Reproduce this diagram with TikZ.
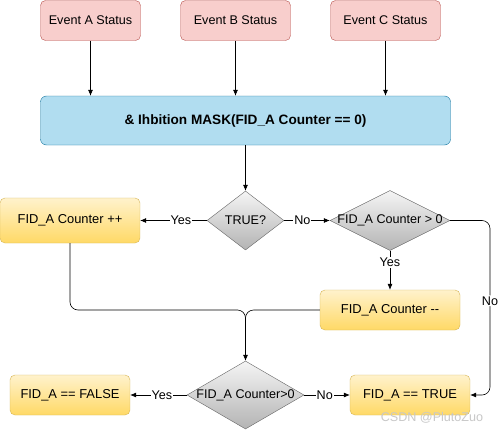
\documentclass[tikz,border=0pt]{standalone}
\usepackage{fontspec}
\setmainfont{Liberation Sans}
\usetikzlibrary{shapes.geometric,arrows.meta,calc}
\definecolor{evfill}{HTML}{F8CECC}
\definecolor{evdraw}{HTML}{B85450}
\definecolor{blfill}{HTML}{B1DDF0}
\definecolor{bldraw}{HTML}{10739E}
\definecolor{ortop}{HTML}{FFF2CC}
\definecolor{orbot}{HTML}{FFD966}
\definecolor{ordraw}{HTML}{D6B656}
\definecolor{dgtop}{HTML}{F5F5F5}
\definecolor{dgbot}{HTML}{B3B3B3}
\definecolor{dgdraw}{HTML}{666666}
\definecolor{wmark}{HTML}{C8C8C8}
\tikzset{
  evbox/.style={draw=evdraw, fill=evfill, rounded corners=5pt, minimum height=40pt, inner sep=0pt, font=\fontsize{12.6}{14}\selectfont},
  blbox/.style={draw=bldraw, fill=blfill, rounded corners=6pt, minimum height=49pt, minimum width=410pt, inner sep=0pt, font=\fontsize{13.6}{15}\selectfont\bfseries},
  orbox/.style={draw=ordraw, top color=ortop, bottom color=orbot, rounded corners=5pt, minimum height=42pt, inner sep=0pt, font=\fontsize{12.9}{14}\selectfont},
  dgshape/.style={diamond, draw=dgdraw, top color=dgtop, bottom color=dgbot, inner sep=0pt, aspect=2},
  dgtext/.style={font=\fontsize{12.6}{14}\selectfont, inner sep=0pt},
  arr/.style={-{Latex[length=6pt,width=5pt]}, line width=0.6pt},
  lbl/.style={fill=white, inner sep=1pt, font=\fontsize{12.6}{14}\selectfont},
}
\begin{document}
\begin{tikzpicture}[x=1pt,y=-1pt]
\useasboundingbox (0,0) rectangle (500,431);
\fill[white] (0,0) rectangle (500,431);
% events
\node[evbox, minimum width=100pt] (evA) at (90.5,20.5) {Event A Status};
\node[evbox, minimum width=110pt] (evB) at (235.5,20.5) {Event B Status};
\node[evbox, minimum width=110pt] (evC) at (385.5,20.5) {Event C Status};
% mask
\node[blbox] (mask) at (245.5,120.5) {\& Ihbition MASK(FID\_A Counter == 0)};
% decisions
\node[dgshape, minimum width=77pt, minimum height=59pt] (d1) at (245.5,220.5) {};
\node[dgtext] at (d1) {TRUE?};
\node[dgshape, minimum width=120pt, minimum height=60pt] (d2) at (390,220.5) {};
\node[dgtext] at (d2) {FID\_A Counter > 0};
\node[dgshape, minimum width=117pt, minimum height=68pt] (d3) at (245.5,395) {};
\node[dgtext] at (d3) {FID\_A Counter>0};
% process boxes
\node[orbox, minimum width=140pt, minimum height=45pt] (inc) at (70,220.5) {FID\_A Counter ++};
\node[orbox, minimum width=140pt, minimum height=40pt] (dec) at (390,310) {FID\_A Counter -{}-};
\node[orbox, minimum width=120pt, minimum height=40pt] (fal) at (70,395) {FID\_A == FALSE};
\node[orbox, minimum width=120pt, minimum height=40pt] (tru) at (410,395) {FID\_A == TRUE};
% coordinates
\coordinate (j) at (245.5,310);
\coordinate (rc) at (490,220.5);
% connectors
\draw[arr] (evA.south) -- (evA.south |- mask.north);
\draw[arr] (evB.south) -- (evB.south |- mask.north);
\draw[arr] (evC.south) -- (evC.south |- mask.north);
\draw[arr] (mask.south -| d1.north) -- (d1.north);
\draw[arr] (d1.west) -- node[lbl, pos=0.39] {Yes} (inc.east);
\draw[arr] (d1.east) -- node[lbl, pos=0.4] {No} (d2.west);
\draw[arr] (d2.south) -- node[lbl, pos=0.3] {Yes} (dec.north);
\draw[arr, rounded corners=8pt] (d2.east) -- (rc) -- node[lbl, pos=0.46] {No} (rc |- tru.east) -- (tru.east);
\draw[arr, rounded corners=8pt] (inc.south) |- (j) -- (d3.north);
\draw[line width=0.6pt, rounded corners=8pt] (dec.west) -- (j) -- ($(j)+(0,30)$);
\draw[arr] (d3.west) -- node[lbl, pos=0.44] {Yes} (fal.east);
\draw[arr] (d3.east) -- node[lbl, pos=0.45] {No} (tru.west);
% watermark
\node[text=wmark, font=\fontsize{12.6}{14}\selectfont, inner sep=0pt] (wm) at (432,418) {CSDN @PlutoZuo};
\end{tikzpicture}
\end{document}
